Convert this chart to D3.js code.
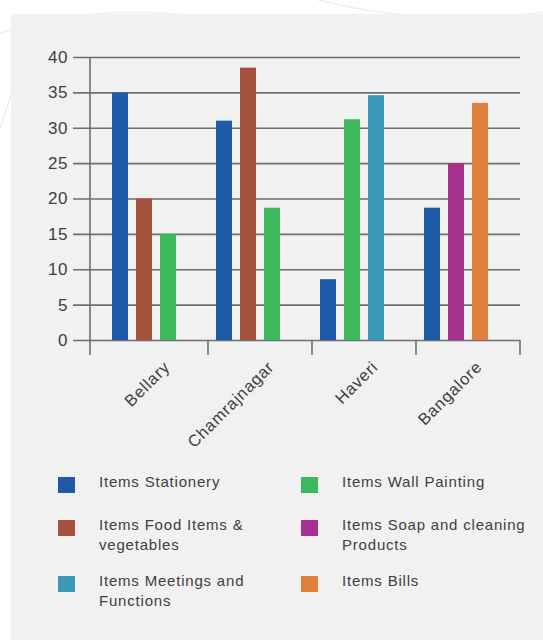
<!DOCTYPE html>
<html>
<head>
<meta charset="utf-8">
<script src="https://cdn.jsdelivr.net/npm/d3@7"></script>
<style>
  html, body { margin: 0; padding: 0; background: #ffffff; }
  svg { display: block; }
  text { font-family: "Liberation Sans", Arial, Helvetica, sans-serif; fill: #404040; }
</style>
</head>
<body>
<svg id="chart" width="543" height="640"></svg>
<script>
// Districts along the x axis
const categories = ["Bellary", "Chamrajnagar", "Haveri", "Bangalore"];

// Expense series (null = no spending recorded in that district)
const seriesNames = [
  "Items Stationery",
  "Items Food Items & vegetables",
  "Items Wall Painting",
  "Items Meetings and Functions",
  "Items Soap and cleaning Products",
  "Items Bills"
];
const stationery = [35, 31, 8.6, 18.7];
const foodItems  = [20, 38.5, null, null];
const wallPaint  = [15, 18.7, 31.2, null];
const meetings   = [null, null, 34.6, null];
const soap       = [null, null, null, 25];
const bills      = [null, null, null, 33.5];
const seriesValues = [stationery, foodItems, wallPaint, meetings, soap, bills];
const seriesColors = ["#1f5aa8", "#a5533f", "#3db85c", "#3a98b6", "#a6318f", "#e0803a"];

// Legend is laid out row by row in two columns
const legendOrder = [0, 2, 1, 4, 3, 5];

const yTicks = [0, 5, 10, 15, 20, 25, 30, 35, 40];

const svg = d3.select("#chart");

// Faint decorative arcs on the page background
const deco = svg.append("g").attr("fill", "none").attr("stroke", "#efefef").attr("stroke-width", 1.5);
deco.append("path").attr("d", "M-20,40 Q120,-10 260,30");
deco.append("path").attr("d", "M300,-5 Q420,30 560,10");
deco.append("path").attr("d", "M-10,150 Q5,120 12,90");

// Grey card behind the chart
svg.append("rect").attr("x", 11).attr("y", 14).attr("width", 532).attr("height", 626).attr("fill", "#f1f1f1");

const plotLeft = 90, plotRight = 520, gridLeft = 73;
const y = d3.scaleLinear().domain([0, 40]).range([340, 57]);
const x0 = d3.scaleBand().domain(categories).range([104, plotRight]).paddingInner(0).paddingOuter(0);

// Horizontal gridlines with value labels
const yAxis = d3.axisLeft(y).tickValues(yTicks).tickSize(-(plotRight - gridLeft)).tickPadding(5);
const gy = svg.append("g").attr("transform", `translate(${gridLeft},0)`).call(yAxis);
gy.select(".domain").remove();
gy.selectAll(".tick line").attr("stroke", "#6f6f6f").attr("stroke-width", 1.6);
gy.selectAll(".tick text")
  .attr("fill", "#404040")
  .style("font-size", "17px")
  .style("letter-spacing", "0.6px")
  .attr("font-family", null);

// Vertical axis line
svg.append("line")
  .attr("x1", plotLeft).attr("x2", plotLeft)
  .attr("y1", y(40)).attr("y2", y(0) + 15)
  .attr("stroke", "#6f6f6f").attr("stroke-width", 1.6);

// Category boundary ticks
svg.append("g").selectAll("line")
  .data(categories)
  .join("line")
  .attr("x1", d => x0(d) + x0.bandwidth())
  .attr("x2", d => x0(d) + x0.bandwidth())
  .attr("y1", y(0)).attr("y2", y(0) + 15)
  .attr("stroke", "#6f6f6f").attr("stroke-width", 1.6);

// Bars: each district only shows the series it has values for
const groups = svg.append("g").selectAll("g")
  .data(categories.map((c, i) => ({
    category: c,
    bars: seriesValues
      .map((vals, s) => ({ s, value: vals[i] }))
      .filter(b => b.value != null)
  })))
  .join("g")
  .attr("transform", d => `translate(${x0(d.category)},0)`);

groups.each(function (d) {
  const inner = d3.scaleBand()
    .domain(d.bars.map(b => b.s))
    .range([8, 72])
    .paddingInner(1 / 3)
    .paddingOuter(0);
  d3.select(this).selectAll("rect")
    .data(d.bars)
    .join("rect")
    .attr("x", b => inner(b.s))
    .attr("width", inner.bandwidth())
    .attr("y", b => y(b.value))
    .attr("height", b => y(0) - y(b.value))
    .attr("fill", b => seriesColors[b.s]);
});

// Rotated district labels
svg.append("g").selectAll("text")
  .data(categories)
  .join("text")
  .attr("transform", d => `translate(${x0(d) + x0.bandwidth() / 2 + 15},${y(0) + 28}) rotate(-45)`)
  .attr("text-anchor", "end")
  .style("font-size", "16.5px")
  .style("letter-spacing", "0.8px")
  .text(d => d);

// Legend
const legend = svg.append("g");
const colX = [58, 301];
const rowY = [477, 520, 576];
legendOrder.forEach((s, k) => {
  const col = k % 2, row = Math.floor(k / 2);
  const g = legend.append("g").attr("transform", `translate(${colX[col]},${rowY[row]})`);
  g.append("rect").attr("width", 17).attr("height", 16).attr("fill", seriesColors[s]);
  const t = g.append("text")
    .attr("x", 41).attr("y", 10)
    .style("font-size", "15px")
    .style("letter-spacing", "0.8px");
  // wrap the label onto lines no wider than the column allows
  const words = seriesNames[s].split(" ");
  let line = [];
  let tspan = t.append("tspan").attr("x", 41).attr("y", 10);
  let lineNo = 0;
  words.forEach(w => {
    line.push(w);
    tspan.text(line.join(" "));
    if (tspan.node().getComputedTextLength() > 192 && line.length > 1) {
      line.pop();
      tspan.text(line.join(" "));
      line = [w];
      lineNo += 1;
      tspan = t.append("tspan").attr("x", 41).attr("y", 10 + lineNo * 20).text(w);
    }
  });
});
</script>
</body>
</html>
